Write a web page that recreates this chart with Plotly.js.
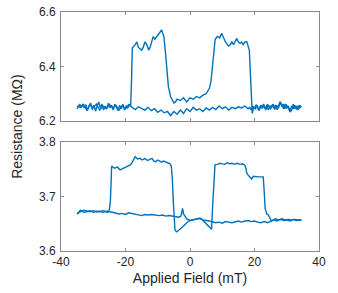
<!DOCTYPE html>
<html>
<head>
<meta charset="utf-8">
<script src="https://cdn.plot.ly/plotly-3.0.1.min.js"></script>
<style>html,body{margin:0;padding:0;background:#fff;}#chart{width:338px;height:293px;}</style>
</head>
<body>
<div id="chart"></div>
<script>
// ---- data ----
var topFwdX = [-35,-34.6,-34.2,-33.7,-33.2,-32.8,-32.3,-31.8,-31.3,-30.8,-30.3,-29.8,-29.3,-28.8,-28.3,-27.8,-27.3,-26.8,-26.3,-25.8,-25.3,-24.8,-24.3,-23.8,-23.3,-22.8,-22.3,-21.8,-21.3,-20.8,-20.3,-19.8,-19.3,-18.8,-18.4,-18.1,-17.9,-17,-16.5,-16,-15,-14.5,-14,-13.4,-12.8,-12.4,-11.4,-10.9,-10.3,-9.8,-9.3,-8.8,-8.4,-8.1,-7.6,-7.2,-6.7,-6.0,-5,-4.5,-4,-3,-2,-1,0,1,2,3,4,5,6,6.5,7,7.4,7.8,8.5,9.2,9.8,10.5,11,11.9,12.5,13,13.5,14.5,15,15.5,16,16.5,17,17.6,18,18.4,18.7,19.0,19.3,19.8,20.3,20.8,21.3,21.8,22.3,22.8,23.3,23.8,24.3,24.8,25.3,25.8,26.3,26.8,27.3,27.9,28.4,28.9,29.4,29.9,30.4,31.0,31.5,32,32.5,33,33.5,34,34.5];
var topFwdY = [6.245,6.255,6.262,6.25,6.262,6.248,6.26,6.238,6.257,6.265,6.242,6.258,6.236,6.255,6.27,6.248,6.262,6.24,6.255,6.245,6.265,6.248,6.258,6.24,6.262,6.25,6.238,6.258,6.245,6.262,6.24,6.255,6.248,6.26,6.255,6.36,6.468,6.48,6.49,6.47,6.46,6.47,6.49,6.48,6.46,6.47,6.51,6.5,6.51,6.52,6.528,6.534,6.52,6.51,6.45,6.387,6.326,6.289,6.266,6.27,6.28,6.275,6.285,6.27,6.285,6.28,6.29,6.285,6.295,6.3,6.32,6.345,6.4,6.46,6.5,6.51,6.505,6.522,6.5,6.49,6.475,6.48,6.49,6.48,6.503,6.49,6.485,6.49,6.48,6.49,6.491,6.475,6.46,6.38,6.27,6.228,6.252,6.245,6.258,6.24,6.255,6.248,6.262,6.245,6.258,6.24,6.255,6.25,6.262,6.242,6.258,6.25,6.271,6.255,6.262,6.245,6.258,6.25,6.234,6.255,6.245,6.258,6.242,6.256,6.248,6.255];
var topRetX = [34.5,34,33.5,33,32.5,32,31.5,31,30.5,30,29.5,29,28.5,28,27.5,27,26.5,26,25.5,25,24.5,24,23.5,23,22.5,22,21.5,21,20.5,20,19.5,19,18.5,18,17,16,15,14,13,12,11,10,9,8,7,6,5,4,3,2,1,0,-1,-2,-3,-4,-5,-6,-7,-8,-9,-10,-11,-12,-13,-14,-15,-16,-17,-18,-19,-20,-21,-22,-23,-24,-25,-26,-27,-28,-29,-30,-31,-32,-33,-34,-35];
var topRetY = [6.25,6.258,6.24,6.255,6.245,6.262,6.238,6.234,6.255,6.248,6.262,6.245,6.258,6.27,6.25,6.242,6.258,6.248,6.26,6.245,6.252,6.262,6.24,6.255,6.248,6.258,6.238,6.25,6.26,6.245,6.255,6.24,6.25,6.245,6.255,6.248,6.252,6.245,6.25,6.24,6.252,6.245,6.255,6.242,6.25,6.24,6.248,6.235,6.245,6.24,6.25,6.235,6.245,6.228,6.24,6.225,6.235,6.22,6.235,6.23,6.24,6.232,6.245,6.238,6.25,6.24,6.245,6.252,6.242,6.25,6.26,6.245,6.255,6.24,6.258,6.248,6.26,6.245,6.255,6.24,6.262,6.25,6.258,6.24,6.26,6.25,6.255];

var botFwdX = [-35,-34.5,-34,-33.5,-33,-32,-31,-30,-29,-28,-27,-26,-25.5,-25,-24.7,-24.5,-24.3,-23.5,-22.5,-21.7,-21,-20.2,-19.5,-19,-18.5,-18.1,-17.5,-17.0,-16.3,-15.5,-14.8,-14,-13.2,-12.4,-11.8,-11.2,-10.6,-10,-9.4,-8.8,-8.2,-7.5,-6.8,-6.2,-5.8,-5.5,-5.2,-4.95,-4.65,-4.1,-3.5,-3,-2,-1,0,1,2,3.1,3.7,4.3,5,5.6,6.2,6.7,7.0,7.4,7.75,8.5,9.3,10,10.8,11.5,12.4,13,13.7,14.6,15.5,16.3,17.05,17.4,17.6,18.2,18.6,19.1,19.6,20.5,21.3,22.2,22.7,23.0,23.3,23.8,24.3,24.8,25.3,25.8,26.5,27.5,28.5,29.5,30.5,31.5,32.5,33.5,34.6];
var botFwdY = [3.668,3.672,3.675,3.673,3.671,3.672,3.674,3.671,3.673,3.672,3.674,3.672,3.671,3.676,3.69,3.72,3.756,3.752,3.754,3.749,3.751,3.753,3.755,3.757,3.758,3.761,3.768,3.773,3.769,3.77,3.767,3.77,3.766,3.768,3.77,3.765,3.764,3.767,3.765,3.763,3.765,3.763,3.762,3.76,3.755,3.735,3.694,3.655,3.638,3.635,3.638,3.64,3.646,3.652,3.656,3.657,3.658,3.66,3.658,3.654,3.65,3.646,3.642,3.64,3.68,3.74,3.758,3.759,3.761,3.76,3.759,3.762,3.76,3.761,3.759,3.761,3.759,3.76,3.757,3.75,3.743,3.738,3.736,3.732,3.737,3.736,3.736,3.736,3.736,3.71,3.678,3.668,3.666,3.66,3.655,3.657,3.659,3.657,3.659,3.657,3.658,3.657,3.658,3.657,3.657];
var botRetX = [34.5,33,32,31,30,29,28,27,26,25,24,23,22,21,20,19,18,17,16,15,14,13,12,11,10,9,8,7,6,5,4,3,2,1,0,-1,-2,-2.3,-2.8,-3.5,-4.5,-5.5,-6.5,-7.5,-8.5,-9.5,-10.5,-12,-13,-14,-15,-16,-17,-18,-19,-20,-21,-22,-23,-24,-25,-26,-27,-28,-29,-30,-31,-32,-33,-34,-35];
var botRetY = [3.657,3.656,3.658,3.655,3.657,3.656,3.658,3.655,3.657,3.655,3.652,3.654,3.652,3.653,3.655,3.654,3.656,3.655,3.653,3.655,3.654,3.652,3.653,3.654,3.651,3.653,3.652,3.654,3.655,3.656,3.657,3.66,3.659,3.657,3.656,3.659,3.668,3.678,3.664,3.662,3.663,3.664,3.665,3.664,3.666,3.665,3.666,3.667,3.666,3.667,3.665,3.666,3.667,3.669,3.67,3.667,3.669,3.668,3.67,3.671,3.672,3.673,3.671,3.673,3.672,3.674,3.672,3.673,3.675,3.672,3.668];

var xTickVals = [-40,-20,0,20,40];
var topTickVals = [6.2,6.4,6.6];
var botTickVals = [3.6,3.7,3.8];

// ---- chart ----
var lineColor = '#0072BD';
var lineStyle = {color: lineColor, width: 1.4};
var traces = [
  {x: topFwdX, y: topFwdY, xaxis: 'x2', yaxis: 'y2', mode: 'lines', line: lineStyle, hoverinfo: 'skip'},
  {x: topRetX, y: topRetY, xaxis: 'x2', yaxis: 'y2', mode: 'lines', line: lineStyle, hoverinfo: 'skip'},
  {x: botFwdX, y: botFwdY, xaxis: 'x', yaxis: 'y', mode: 'lines', line: lineStyle, hoverinfo: 'skip'},
  {x: botRetX, y: botRetY, xaxis: 'x', yaxis: 'y', mode: 'lines', line: lineStyle, hoverinfo: 'skip'}
];

var axisCol = '#8a8a8a';
var tickFont = {family: 'Liberation Sans, Arial, sans-serif', size: 12, color: '#262626'};
function baseAxis(extra) {
  var a = {
    showgrid: false, zeroline: false, showline: true, mirror: 'ticks',
    linecolor: axisCol, linewidth: 1, ticks: 'inside', ticklen: 3,
    tickcolor: axisCol, tickwidth: 1, tickfont: tickFont, fixedrange: true
  };
  for (var k in extra) a[k] = extra[k];
  return a;
}

var layout = {
  width: 338, height: 293,
  margin: {l: 61, r: 19, t: 12, b: 42},
  paper_bgcolor: '#ffffff', plot_bgcolor: '#ffffff',
  showlegend: false,
  font: {family: 'Liberation Sans, Arial, sans-serif', color: '#262626'},
  xaxis: baseAxis({range: [-40, 40], tickvals: xTickVals, ticktext: xTickVals.map(String), anchor: 'y',
    title: {text: 'Applied Field (mT)', font: {size: 14, color: '#262626'}, standoff: 4}}),
  yaxis: baseAxis({range: [3.6, 3.8], tickvals: botTickVals, ticktext: botTickVals.map(function(v){return v.toFixed(1);}),
    domain: [0, 0.456], anchor: 'x', ticklabelstandoff: 2}),
  xaxis2: baseAxis({range: [-40, 40], tickvals: xTickVals, showticklabels: false, anchor: 'y2'}),
  yaxis2: baseAxis({range: [6.2, 6.6], tickvals: topTickVals, ticktext: topTickVals.map(function(v){return v.toFixed(1);}),
    domain: [0.544, 1], anchor: 'x2', ticklabelstandoff: 2}),
  annotations: [{
    text: 'Resistance (M\u03A9)', xref: 'paper', yref: 'paper', x: -0.17, y: 0.52,
    xanchor: 'center', yanchor: 'middle', textangle: -90, showarrow: false,
    font: {family: 'Liberation Sans, Arial, sans-serif', size: 14, color: '#262626'}
  }]
};

Plotly.newPlot('chart', traces, layout, {staticPlot: true, displayModeBar: false});
</script>
</body>
</html>
